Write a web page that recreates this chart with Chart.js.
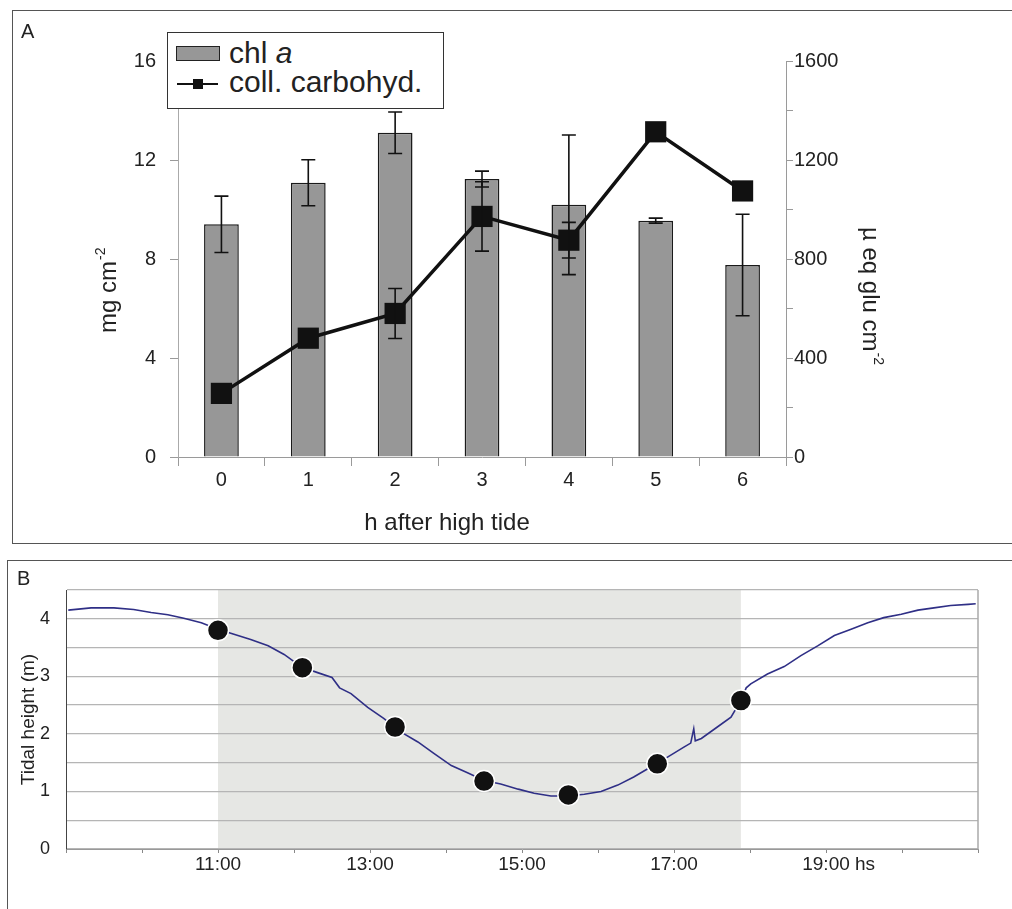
<!DOCTYPE html>
<html>
<head>
<meta charset="utf-8">
<script src="https://cdn.jsdelivr.net/npm/chart.js@4.4.1/dist/chart.umd.min.js"></script>
<style>
  body { margin: 0; width: 1012px; height: 909px; overflow: hidden; background: #fff; position: relative;
         font-family: "Liberation Sans", Arial, sans-serif; color: #222; }
  .frame { position: absolute; border: 1.5px solid #555; box-sizing: border-box; }
  #frameA { left: 12px; top: 10px; width: 1020px; height: 534px; }
  #frameB { left: 7px; top: 560px; width: 1030px; height: 400px; }
  canvas { position: absolute; }
  #chartA { left: 12px; top: 10px; }
  #chartB { left: 8px; top: 561px; }
  .tag { position: absolute; font-size: 20px; line-height: 20px; }
  #legend { position: absolute; left: 167px; top: 32px; width: 277px; height: 77px; box-sizing: border-box;
            border: 1.5px solid #333; background: #fff; }
  #legend .txt { position: absolute; left: 61px; font-size: 30px; line-height: 30px; white-space: nowrap; }
  #legend .sw-bar { position: absolute; left: 8px; top: 13px; width: 44px; height: 15px; box-sizing: border-box;
                    background: #979797; border: 1.5px solid #222; }
  #legend .sw-line { position: absolute; left: 9px; top: 50px; width: 41px; height: 2px; background: #111; }
  #legend .sw-pt { position: absolute; left: 25px; top: 46px; width: 10px; height: 10px; background: #111; }
</style>
</head>
<body>
<div class="frame" id="frameA"></div>
<div class="frame" id="frameB"></div>
<canvas id="chartA" width="1000" height="533"></canvas>
<canvas id="chartB" width="1004" height="348"></canvas>
<div class="tag" style="left:21px; top:21px;">A</div>
<div class="tag" style="left:17px; top:568px;">B</div>
<div id="legend">
  <span class="sw-bar"></span>
  <span class="txt" style="top:5px;">chl <i>a</i></span>
  <span class="sw-line"></span><span class="sw-pt"></span>
  <span class="txt" style="top:34px;">coll. carbohyd.</span>
</div>
<script>
// panel A: hours after high tide
const hours = ["0", "1", "2", "3", "4", "5", "6"];
const chlA = [9.4, 11.08, 13.1, 11.23, 10.19, 9.55, 7.76];
const chlAErr = [1.14, 0.93, 0.84, 0.32, 2.82, 0.1, 2.05];
const carbohyd = [257, 480, 580, 972, 876, 1314, 1075];
const carbohydErr = [0, 0, 101, 140, 72, 0, 0];

// panel B: tidal record (decimal hours) and sampling times
const tideTimes = [9.03, 9.33, 9.63, 9.89, 10.12, 10.34, 10.55, 10.78, 11.0, 11.21, 11.43, 11.66, 11.87,
  12.1, 12.32, 12.5, 12.6, 12.75, 12.97, 13.18, 13.41, 13.63, 13.84, 14.07, 14.29, 14.5, 14.72, 14.95,
  15.16, 15.38, 15.61, 15.82, 16.04, 16.26, 16.47, 16.7, 16.92, 17.13, 17.22, 17.26, 17.28, 17.36,
  17.57, 17.75, 17.88, 17.95, 18.01, 18.23, 18.45, 18.67, 18.89, 19.11, 19.33, 19.55, 19.76, 19.99,
  20.21, 20.42, 20.64, 20.87, 20.97];
const tideHeights = [4.15, 4.19, 4.19, 4.16, 4.11, 4.07, 4.01, 3.93, 3.82, 3.73, 3.64, 3.53, 3.38,
  3.16, 3.06, 2.98, 2.8, 2.7, 2.46, 2.27, 2.03, 1.86, 1.66, 1.45, 1.32, 1.19, 1.13, 1.04,
  0.97, 0.92, 0.92, 0.95, 1.0, 1.11, 1.25, 1.43, 1.6, 1.77, 1.84, 2.09, 1.88, 1.92,
  2.12, 2.29, 2.58, 2.8, 2.87, 3.04, 3.17, 3.36, 3.53, 3.71, 3.82, 3.93, 4.02, 4.08,
  4.15, 4.19, 4.23, 4.25, 4.26];
const sampleTimes = [11.0, 12.11, 13.33, 14.5, 15.61, 16.78, 17.88];
const sampleHeights = [3.8, 3.15, 2.12, 1.18, 0.94, 1.48, 2.58];
const timeLabels = [11, 13, 15, 17, 19];

const FONT = '"Liberation Sans", Arial, sans-serif';
Chart.defaults.font.family = FONT;
Chart.defaults.color = "#222";

function drawWithSup(ctx, main, sup, x, y, rot) {
  ctx.save();
  ctx.translate(x, y);
  ctx.rotate(rot);
  ctx.textAlign = "left";
  ctx.textBaseline = "alphabetic";
  ctx.font = "24px " + FONT;
  ctx.fillText(main, 0, 0);
  const w = ctx.measureText(main).width;
  ctx.font = "14px " + FONT;
  ctx.fillText(sup, w + 1, -11);
  ctx.restore();
}

const errorBars = {
  id: "errorBars",
  afterDatasetsDraw(chart) {
    const ctx = chart.ctx;
    chart.data.datasets.forEach((ds, di) => {
      if (!ds.errors) return;
      const meta = chart.getDatasetMeta(di);
      const scale = chart.scales[meta.yAxisID];
      ctx.save();
      ctx.strokeStyle = "#111";
      ctx.lineWidth = 1.6;
      meta.data.forEach((el, i) => {
        const e = ds.errors[i];
        if (!e) return;
        const top = scale.getPixelForValue(ds.data[i] + e);
        const bot = scale.getPixelForValue(ds.data[i] - e);
        ctx.beginPath();
        ctx.moveTo(el.x, top); ctx.lineTo(el.x, bot);
        ctx.moveTo(el.x - 7, top); ctx.lineTo(el.x + 7, top);
        ctx.moveTo(el.x - 7, bot); ctx.lineTo(el.x + 7, bot);
        ctx.stroke();
      });
      ctx.restore();
    });
  }
};

const titlesA = {
  id: "titlesA",
  afterDraw(chart) {
    const { ctx, chartArea: a } = chart;
    ctx.save();
    ctx.fillStyle = "#222";
    ctx.font = "24px " + FONT;
    ctx.textAlign = "center";
    ctx.textBaseline = "middle";
    ctx.fillText("h after high tide", a.left + 269, a.bottom + 66);
    drawWithSup(ctx, "mg cm", "-2", a.left - 62, a.bottom - 124, -Math.PI / 2);
    drawWithSup(ctx, "\u00b5 eq glu cm", "-2", a.right + 77, a.top + 166, Math.PI / 2);
    ctx.restore();
  }
};

new Chart(document.getElementById("chartA"), {
  type: "bar",
  data: {
    labels: hours,
    datasets: [
      {
        type: "line",
        label: "coll. carbohyd.",
        data: carbohyd,
        errors: carbohydErr,
        yAxisID: "y2",
        borderColor: "#111",
        borderWidth: 3.5,
        pointStyle: "rect",
        pointRadius: 15,
        pointBackgroundColor: "#111",
        pointBorderColor: "#111",
        pointBorderWidth: 0,
        tension: 0,
        order: 0
      },
      {
        label: "chl a",
        data: chlA,
        errors: chlAErr,
        yAxisID: "y",
        backgroundColor: "#979797",
        borderColor: "#1a1a1a",
        borderWidth: 1.5,
        categoryPercentage: 1,
        barPercentage: 0.4,
        order: 1
      }
    ]
  },
  options: {
    responsive: false,
    animation: false,
    events: [],
    layout: { padding: { top: 51, left: 0, right: 0, bottom: 0 } },
    plugins: { legend: { display: false }, tooltip: { enabled: false } },
    scales: {
      x: {
        offset: true,
        grid: { offset: true, drawOnChartArea: false, tickLength: 9, color: "#9a9a9a" },
        border: { color: "#9a9a9a" },
        ticks: { font: { size: 20 }, padding: 2, maxRotation: 0 },
        afterFit: (s) => { s.height = 86; }
      },
      y: {
        position: "left",
        min: 0,
        max: 16,
        ticks: { stepSize: 4, font: { size: 20 }, padding: 14 },
        grid: { drawOnChartArea: false, tickLength: 8, color: "#9a9a9a" },
        border: { color: "#aaaaaa" },
        afterFit: (s) => { s.width = 166; }
      },
      y2: {
        position: "right",
        min: 0,
        max: 1600,
        ticks: { stepSize: 200, font: { size: 20 }, padding: 1,
                 callback: (v) => (v % 400 === 0 ? v : "") },
        grid: { drawOnChartArea: false, tickLength: 7, color: "#9a9a9a" },
        border: { color: "#9a9a9a" },
        afterFit: (s) => { s.width = 226; }
      }
    }
  },
  plugins: [errorBars, titlesA]
});

const tideExtras = {
  id: "tideExtras",
  beforeDraw(chart) {
    const { ctx, chartArea: a, scales: { x } } = chart;
    const x0 = x.getPixelForValue(sampleTimes[0]);
    const x1 = x.getPixelForValue(sampleTimes[sampleTimes.length - 1]);
    ctx.save();
    ctx.fillStyle = "#e6e7e4";
    ctx.fillRect(x0, a.top, x1 - x0, a.bottom - a.top);
    ctx.restore();
  },
  afterDraw(chart) {
    const { ctx, chartArea: a, scales: { x } } = chart;
    ctx.save();
    ctx.strokeStyle = "#aaaaaa";
    ctx.lineWidth = 1.5;
    ctx.beginPath();
    ctx.moveTo(a.right, a.top);
    ctx.lineTo(a.right, a.bottom);
    ctx.stroke();
    // unit after the last time label
    const last = timeLabels[timeLabels.length - 1];
    ctx.font = "19px " + FONT;
    ctx.fillStyle = "#222";
    ctx.textBaseline = "middle";
    ctx.textAlign = "left";
    const w = ctx.measureText(last + ":00").width;
    ctx.fillText(" hs", x.getPixelForValue(last) + w / 2, x.top + 4 + 11.4);
    ctx.restore();
  }
};

new Chart(document.getElementById("chartB"), {
  type: "scatter",
  data: {
    datasets: [
      {
        label: "samples",
        data: sampleTimes.map((t, i) => ({ x: t, y: sampleHeights[i] })),
        pointRadius: 10.5,
        pointBackgroundColor: "#111",
        pointBorderColor: "#ffffff",
        pointBorderWidth: 1.5,
        order: 0
      },
      {
        label: "tide",
        data: tideTimes.map((t, i) => ({ x: t, y: tideHeights[i] })),
        showLine: true,
        borderColor: "#2f2f86",
        borderWidth: 1.6,
        pointRadius: 0,
        tension: 0,
        order: 1
      }
    ]
  },
  options: {
    responsive: false,
    animation: false,
    events: [],
    layout: { padding: { top: 29, right: 34, left: 0, bottom: 0 } },
    plugins: { legend: { display: false }, tooltip: { enabled: false } },
    scales: {
      x: {
        type: "linear",
        min: 9,
        max: 21,
        ticks: {
          stepSize: 1,
          autoSkip: false,
          maxRotation: 0,
          padding: 0,
          font: { size: 19 },
          callback: (v) => (timeLabels.includes(v) ? v + ":00" : "")
        },
        grid: { drawOnChartArea: false, tickLength: 4, color: "#888888" },
        border: { color: "#999999" },
        afterFit: (s) => { s.height = 60; }
      },
      y: {
        min: 0,
        max: 4.5,
        ticks: {
          stepSize: 0.5,
          padding: 16,
          font: { size: 18 },
          callback: (v) => (Number.isInteger(v) ? v : "")
        },
        grid: { color: "#b5b5b5", lineWidth: 1.3, drawTicks: false },
        border: { color: "#444444" },
        title: { display: true, text: "Tidal height (m)", font: { size: 19 }, padding: { top: 9, bottom: 0 } },
        afterFit: (s) => { s.width = 58; }
      }
    }
  },
  plugins: [tideExtras]
});
</script>
</body>
</html>
